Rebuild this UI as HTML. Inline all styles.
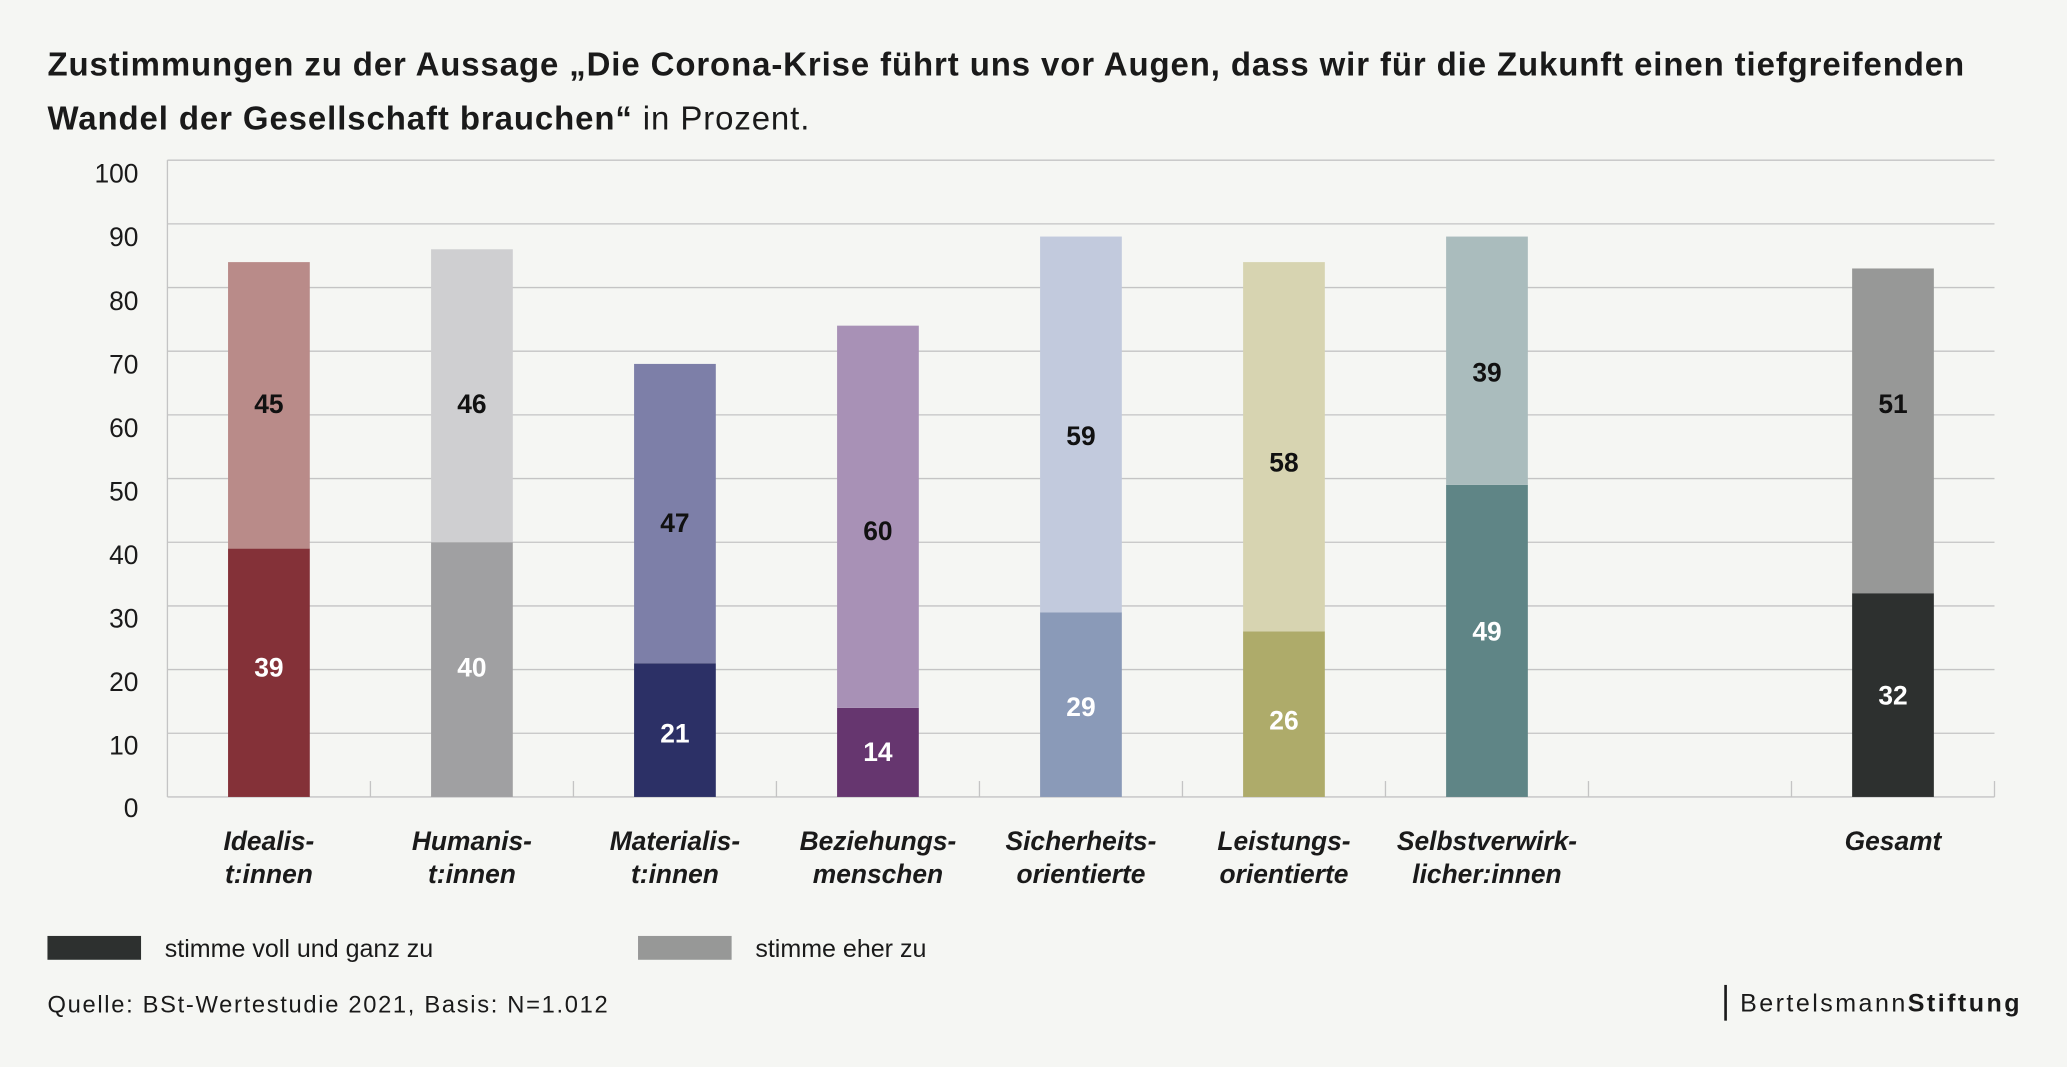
<!DOCTYPE html>
<html><head><meta charset="utf-8"><style>
html,body{margin:0;padding:0;background:#f5f6f3;}
svg{display:block;font-family:"Liberation Sans",sans-serif;}
</style></head><body>
<svg width="2067" height="1067" viewBox="0 0 1568 806" preserveAspectRatio="none" xmlns="http://www.w3.org/2000/svg">
<rect width="1568" height="806" fill="#f5f6f3"/>
<text x="36" y="57" font-size="25" font-weight="bold" fill="#1a1a1a" textLength="1454" lengthAdjust="spacing">Zustimmungen zu der Aussage „Die Corona-Krise führt uns vor Augen, dass wir für die Zukunft einen tiefgreifenden</text>
<text x="36" y="98" font-size="25" fill="#1a1a1a" textLength="578" lengthAdjust="spacing"><tspan font-weight="bold">Wandel der Gesellschaft brauchen“</tspan> in Prozent.</text>
<g stroke="#c4c4c4" stroke-width="1">
<line x1="127" x2="1513" y1="121" y2="121"/><line x1="127" x2="1513" y1="169.1" y2="169.1"/><line x1="127" x2="1513" y1="217.2" y2="217.2"/><line x1="127" x2="1513" y1="265.3" y2="265.3"/><line x1="127" x2="1513" y1="313.4" y2="313.4"/><line x1="127" x2="1513" y1="361.5" y2="361.5"/><line x1="127" x2="1513" y1="409.6" y2="409.6"/><line x1="127" x2="1513" y1="457.7" y2="457.7"/><line x1="127" x2="1513" y1="505.8" y2="505.8"/><line x1="127" x2="1513" y1="553.9" y2="553.9"/>
<line x1="127" x2="127" y1="121" y2="602"/>
<line x1="127" x2="1513" y1="602" y2="602"/>
<line x1="281" x2="281" y1="590" y2="602"/><line x1="435" x2="435" y1="590" y2="602"/><line x1="589" x2="589" y1="590" y2="602"/><line x1="743" x2="743" y1="590" y2="602"/><line x1="897" x2="897" y1="590" y2="602"/><line x1="1051" x2="1051" y1="590" y2="602"/><line x1="1205" x2="1205" y1="590" y2="602"/><line x1="1359" x2="1359" y1="590" y2="602"/><line x1="1513" x2="1513" y1="590" y2="602"/>
</g>
<g font-size="20" fill="#1a1a1a" text-anchor="end">
<text x="105" y="138">100</text><text x="105" y="186">90</text><text x="105" y="234">80</text><text x="105" y="282">70</text><text x="105" y="330">60</text><text x="105" y="378">50</text><text x="105" y="426">40</text><text x="105" y="474">30</text><text x="105" y="522">20</text><text x="105" y="570">10</text><text x="105" y="617">0</text>
</g>
<g>
<rect x="173" y="414.4" width="62" height="187.6" fill="#843138"/><rect x="173" y="198" width="62" height="216.4" fill="#b98b89"/>
<rect x="327" y="409.6" width="62" height="192.4" fill="#a0a0a2"/><rect x="327" y="188.3" width="62" height="221.3" fill="#cfcfd1"/>
<rect x="481" y="501" width="62" height="101" fill="#2c3066"/><rect x="481" y="274.9" width="62" height="226.1" fill="#7d7fa8"/>
<rect x="635" y="534.7" width="62" height="67.3" fill="#66366f"/><rect x="635" y="246" width="62" height="288.7" fill="#a891b6"/>
<rect x="789" y="462.5" width="62" height="139.5" fill="#8a9ab8"/><rect x="789" y="178.7" width="62" height="283.8" fill="#c2cadd"/>
<rect x="943" y="476.9" width="62" height="125.1" fill="#aeab6a"/><rect x="943" y="198" width="62" height="278.9" fill="#d7d4b1"/>
<rect x="1097" y="366.3" width="62" height="235.7" fill="#5f8586"/><rect x="1097" y="178.7" width="62" height="187.6" fill="#aabcbd"/>
<rect x="1405" y="448.1" width="62" height="153.9" fill="#2d302f"/><rect x="1405" y="202.8" width="62" height="245.3" fill="#979897"/>
</g>
<g font-size="20" font-weight="bold" text-anchor="middle">
<text x="204" y="511" fill="#fff">39</text><text x="204" y="312" fill="#111">45</text>
<text x="358" y="511" fill="#fff">40</text><text x="358" y="312" fill="#111">46</text>
<text x="512" y="561" fill="#fff">21</text><text x="512" y="402" fill="#111">47</text>
<text x="666" y="575" fill="#fff">14</text><text x="666" y="408" fill="#111">60</text>
<text x="820" y="541" fill="#fff">29</text><text x="820" y="336" fill="#111">59</text>
<text x="974" y="551" fill="#fff">26</text><text x="974" y="356" fill="#111">58</text>
<text x="1128" y="484" fill="#fff">49</text><text x="1128" y="288" fill="#111">39</text>
<text x="1436" y="532" fill="#fff">32</text><text x="1436" y="312" fill="#111">51</text>
</g>
<g font-size="20" font-weight="bold" font-style="italic" fill="#1a1a1a" text-anchor="middle">
<text x="204" y="642">Idealis-</text><text x="204" y="667">t:innen</text>
<text x="358" y="642">Humanis-</text><text x="358" y="667">t:innen</text>
<text x="512" y="642">Materialis-</text><text x="512" y="667">t:innen</text>
<text x="666" y="642">Beziehungs-</text><text x="666" y="667">menschen</text>
<text x="820" y="642">Sicherheits-</text><text x="820" y="667">orientierte</text>
<text x="974" y="642">Leistungs-</text><text x="974" y="667">orientierte</text>
<text x="1128" y="642">Selbstverwirk-</text><text x="1128" y="667">licher:innen</text>
<text x="1436" y="642">Gesamt</text>
</g>
<rect x="36" y="707" width="71" height="18" fill="#2d302f"/>
<text x="125" y="723" font-size="19" fill="#1a1a1a">stimme voll und ganz zu</text>
<rect x="484" y="707" width="71" height="18" fill="#979897"/>
<text x="573" y="723" font-size="19" fill="#1a1a1a">stimme eher zu</text>
<text x="36" y="765" font-size="18" fill="#1a1a1a" textLength="425" lengthAdjust="spacing">Quelle: BSt-Wertestudie 2021, Basis: N=1.012</text>
<line x1="1309" x2="1309" y1="744" y2="771" stroke="#1a1a1a" stroke-width="2"/>
<text x="1320" y="764" font-size="19" fill="#1a1a1a" textLength="212" lengthAdjust="spacing">Bertelsmann<tspan font-weight="bold">Stiftung</tspan></text>
</svg>
</body></html>
